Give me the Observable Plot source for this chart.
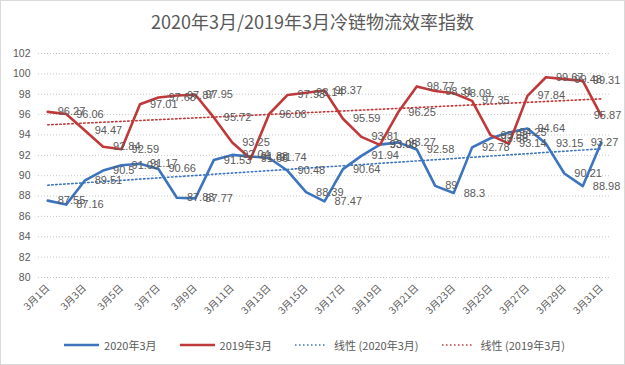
<!DOCTYPE html>
<html>
<head>
<meta charset="utf-8">
<script src="https://cdn.jsdelivr.net/npm/d3@7"></script>
<script src="https://cdn.jsdelivr.net/npm/@observablehq/plot@0.6"></script>
<style>
  html, body { margin: 0; padding: 0; background: #fff; }
  #chart { width: 625px; height: 365px; position: relative; overflow: hidden; background: #fff;
           font-family: "Noto Sans CJK SC", "Noto Sans", sans-serif; }
  #frame { position: absolute; left: 0; top: 0; right: 0; bottom: 0; border: 1px solid #d9d9d9; pointer-events: none; }
  #title { height: 40px; line-height: 42px; text-align: center; font-size: 18px; color: #595959; }
  #plot { height: 285px; }
  #legend { height: 40px; display: flex; justify-content: center; align-items: center; gap: 23px;
            font-size: 11px; color: #595959; padding-left: 4px; }
  .item { display: flex; align-items: center; gap: 5px; }
  .item svg { display: block; }
</style>
</head>
<body>
<div id="chart">
  <div id="title"></div>
  <div id="plot"></div>
  <div id="legend"></div>
  <div id="frame"></div>
</div>
<script>
// ---- data ----
const titleText = "2020年3月/2019年3月冷链物流效率指数";
const days = ["3月1日","3月2日","3月3日","3月4日","3月5日","3月6日","3月7日","3月8日","3月9日","3月10日",
  "3月11日","3月12日","3月13日","3月14日","3月15日","3月16日","3月17日","3月18日","3月19日","3月20日",
  "3月21日","3月22日","3月23日","3月24日","3月25日","3月26日","3月27日","3月28日","3月29日","3月30日","3月31日"];
const index2020 = [87.55, 87.16, 89.51, 90.5, 91.03, 91.17, 90.66, 87.83, 87.77, 91.53,
  92.04, 91.88, 91.74, 90.48, 88.39, 87.47, 90.64, 91.94, 93.05, 93.27,
  92.58, 89, 88.3, 92.78, 93.68, 94.25, 94.64, 93.15, 90.21, 88.98, 93.27];
const index2019 = [96.27, 96.06, 94.47, 92.84, 92.59, 97.01, 97.68, 97.87, 97.95, 95.72,
  93.25, 91.66, 96.06, 97.93, 98.14, 98.37, 95.59, 93.81, 93.03, 96.25,
  98.77, 98.31, 98.09, 97.35, 93.98, 93.14, 97.84, 99.67, 99.48, 99.31, 95.87];
const seriesNames = ["2020年3月", "2019年3月"];
const trendNames = ["线性 (2020年3月)", "线性 (2019年3月)"];
const yTicks = [80, 82, 84, 86, 88, 90, 92, 94, 96, 98, 100, 102];
const xTickLabels = ["3月1日","3月3日","3月5日","3月7日","3月9日","3月11日","3月13日","3月15日",
  "3月17日","3月19日","3月21日","3月23日","3月25日","3月27日","3月29日","3月31日"];

// ---- styles ----
const BLUE = "#3D74BE";
const RED = "#C0393A";
const GRAY = "#595959";

const rows2020 = days.map((d, i) => ({day: i + 1, label: d, value: index2020[i]}));
const rows2019 = days.map((d, i) => ({day: i + 1, label: d, value: index2019[i]}));
const xTicks = xTickLabels.map(t => days.indexOf(t) + 1);
const last = days.length;

document.getElementById("title").textContent = titleText;

const labelOpts = () => ({
  x: "day", y: "value", text: d => String(d.value),
  fill: GRAY, fontSize: 11, fontFamily: "Liberation Sans, Arial, sans-serif"
});

const plot = Plot.plot({
  width: 625,
  height: 285,
  marginLeft: 38,
  marginRight: 15,
  marginTop: 13,
  marginBottom: 48,
  style: {background: "transparent", color: GRAY, fontFamily: "Liberation Sans, Arial, sans-serif", overflow: "visible"},
  x: {type: "linear", domain: [0.5, last + 0.5]},
  y: {domain: [80, 102]},
  marks: [
    Plot.ruleY(yTicks, {stroke: "#c8c8c8", strokeWidth: 1, strokeDasharray: "1,2"}),
    Plot.axisY({ticks: yTicks, tickSize: 0, tickPadding: 8, fontSize: 10.5, fill: GRAY, label: null,
      fontFamily: "Liberation Sans, Arial, sans-serif"}),
    Plot.axisX({ticks: xTicks, tickFormat: d => days[d - 1], tickRotate: -45, tickSize: 0, tickPadding: 9,
      label: null, fontSize: 10, fill: GRAY, fontFamily: "Noto Sans CJK SC, sans-serif"}),
    Plot.line(rows2020, {x: "day", y: "value", stroke: BLUE, strokeWidth: 2.6, strokeLinejoin: "round"}),
    Plot.line(rows2019, {x: "day", y: "value", stroke: RED, strokeWidth: 2.6, strokeLinejoin: "round"}),
    Plot.linearRegressionY(rows2020, {x: "day", y: "value", stroke: BLUE, ci: 0, strokeWidth: 1.6, strokeDasharray: "1.5,2.5"}),
    Plot.linearRegressionY(rows2019, {x: "day", y: "value", stroke: RED, ci: 0, strokeWidth: 1.6, strokeDasharray: "1.5,2.5"}),
    Plot.text(rows2020.filter(d => d.day < last), {...labelOpts(), dx: 10, textAnchor: "start"}),
    Plot.text(rows2019.filter(d => d.day < last), {...labelOpts(), dx: 10, textAnchor: "start"}),
    Plot.text(rows2020.filter(d => d.day === last), {...labelOpts(), dx: 17, textAnchor: "end"}),
    Plot.text(rows2019.filter(d => d.day === last), {...labelOpts(), dx: 20, textAnchor: "end"})
  ]
});
document.getElementById("plot").appendChild(plot);

// ---- legend ----
const legend = document.getElementById("legend");
const items = [
  {name: seriesNames[0], color: BLUE, dotted: false},
  {name: seriesNames[1], color: RED, dotted: false},
  {name: trendNames[0], color: BLUE, dotted: true},
  {name: trendNames[1], color: RED, dotted: true}
];
for (const it of items) {
  const el = document.createElement("div");
  el.className = "item";
  const w = it.dotted ? 30 : 35;
  el.innerHTML = `<svg width="${w}" height="8"><line x1="0" x2="${w}" y1="4" y2="4" stroke="${it.color}" stroke-width="${it.dotted ? 1.6 : 2.6}" ${it.dotted ? 'stroke-dasharray="1.5,2.5"' : ''}/></svg><span>${it.name}</span>`;
  if (it.dotted) el.style.gap = "9px";
  legend.appendChild(el);
}
</script>
</body>
</html>
